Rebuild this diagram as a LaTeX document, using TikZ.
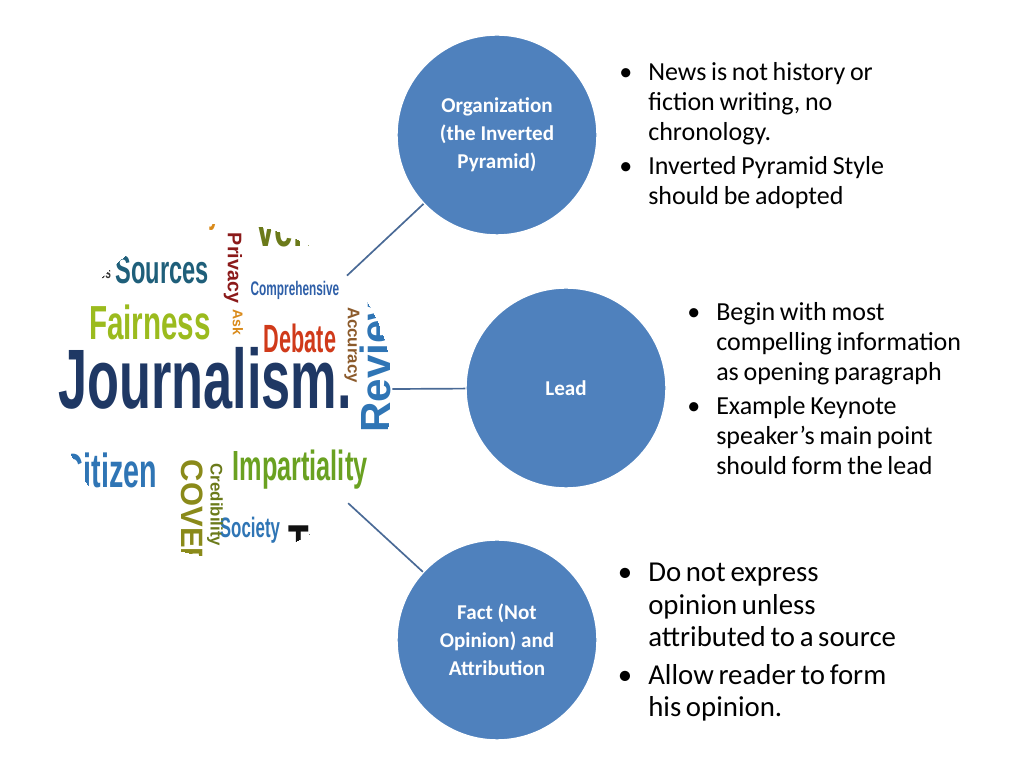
\documentclass[tikz,border=0pt]{standalone}
\usepackage{fontspec}
\setmainfont{Carlito}
\newfontfamily\cloudfont{Liberation Sans}
\usepackage{graphicx}
\usepackage{enumitem}
\usetikzlibrary{positioning}
\definecolor{topicblue}{HTML}{4F81BD}
\definecolor{linkblue}{HTML}{4A6A96}
\tikzset{
  topic/.style={circle, fill=topicblue, draw=white, line width=1pt, minimum size=5cm,
    text=white, align=center, font=\fontsize{15}{20}\selectfont\bfseries},
  note/.style={anchor=north west, text width=8.8cm, inner sep=0pt, align=left},
  word/.style={inner sep=0pt, font=\cloudfont\bfseries}
}
\begin{document}
\begin{tikzpicture}
\useasboundingbox (0,0) rectangle (25.6,19.2);

\node [circle, minimum size=8.35cm, inner sep=0pt] (cloud) at (5.625,9.45) {};
\begin{scope}
\clip (cloud.center) circle (4.175cm);
\foreach \i/\x/\y/\c/\s/\f/\w in {
   1/205/378/1F3864/60/0.62/Journalism.,
   2/150/322/9BBB1E/34/0.62/Fairness,
   3/162/270/1F5F7A/28/0.6/Sources,
   4/300/232/6B7A1A/40/0.6/Verify,
   5/150/215/D98A1A/24/0.6/Accountability,
   6/242/207/333333/12/0.7/Facts,
   7/295/290/2E5FA8/14/0.6/Comprehensive,
   8/300/338/D03A1A/28/0.55/Debate,
   9/110/470/2F75B5/34/0.6/Citizen,
  10/300/470/6AA121/30/0.6/Impartiality,
  11/250/530/2F75B5/20/0.6/Society,
  12/252/568/1F7A7A/14/0.6/Audience,
  13/330/545/111111/40/0.6/Trust,
  14/95/272/333333/12/0.6/Voices,
  15/115/560/C0392B/22/0.6/Session}
{
  \definecolor{wc}{HTML}{\c}
  \node [word, text=wc] (w\i) at (\x/40, 19.2-\y/40) {\scalebox{\f}[1]{\fontsize{\s}{\s}\selectfont \w}};
}
\foreach \i/\x/\y/\c/\s/\r/\w in {
  16/233/268/8B1A1A/14/-90/Privacy,
  17/352/345/8B5A2B/12/-90/Accuracy,
  18/375/360/2F75B5/30/90/Review,
  19/192/515/8A8A1A/22/-90/COVER,
  20/215/505/6B7A1A/12/-90/Credibility,
  21/238/322/D98A1A/10/-90/Ask}
{
  \definecolor{wc}{HTML}{\c}
  \node [word, text=wc, rotate=\r] (w\i) at (\x/40, 19.2-\y/40) {\fontsize{\s}{\s}\selectfont \w};
}
\end{scope}

\node [topic] (org) at (12.425,15.825) {Organization\\(the Inverted\\Pyramid)};
\node [topic] (lead) at (14.15,9.5) {Lead};
\node [topic] (fact) at (12.425,3.2) {Fact (Not\\Opinion) and\\Attribution};

\foreach \t in {org, lead, fact}
    \draw [linkblue, line width=1.2pt] (cloud) -- (\t);

\node [note] (orgtxt) at (15.55,17.95) {\fontsize{18.5}{21.3}\selectfont
  \begin{itemize}[leftmargin=0.65cm, labelsep=0.4cm, itemsep=3pt, topsep=0pt, parsep=0pt]
  \item News is not history or\newline fiction writing, no\newline chronology.
  \item Inverted Pyramid Style\newline should be adopted
  \end{itemize}};
\node [note] (leadtxt) at (17.25,11.95) {\fontsize{18.5}{21.3}\selectfont
  \begin{itemize}[leftmargin=0.65cm, labelsep=0.4cm, itemsep=3pt, topsep=0pt, parsep=0pt]
  \item Begin with most\newline compelling information\newline as opening paragraph
  \item Example Keynote\newline speaker’s main point\newline should form the lead
  \end{itemize}};
\node [note] (facttxt) at (15.55,5.5) {\fontsize{20.5}{23.4}\selectfont
  \begin{itemize}[leftmargin=0.65cm, labelsep=0.4cm, itemsep=3pt, topsep=0pt, parsep=0pt]
  \item Do not express\newline opinion unless\newline attributed to a source
  \item Allow reader to form\newline his opinion.
  \end{itemize}};
\end{tikzpicture}
\end{document}
